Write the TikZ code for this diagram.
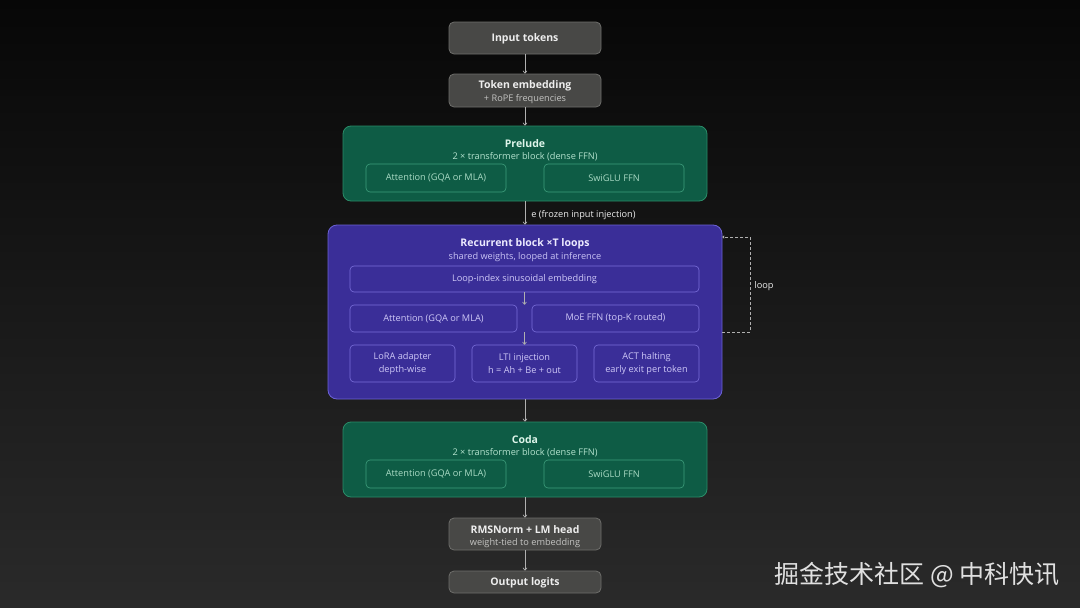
\documentclass[tikz,border=0pt]{standalone}
\usepackage{fontspec}
\setmainfont{Open Sans}
\newfontfamily\cjk{Noto Sans CJK SC}
\usetikzlibrary{arrows.meta}
\definecolor{bgtop}{HTML}{070707}
\definecolor{bgbot}{HTML}{2A2A2A}
\definecolor{gfill}{HTML}{484846}
\definecolor{gline}{HTML}{6E6E6B}
\definecolor{gtxt}{HTML}{EDEDED}
\definecolor{gsub}{HTML}{C4C4C2}
\definecolor{grfill}{HTML}{0E5C45}
\definecolor{grline}{HTML}{2A8C68}
\definecolor{grtitle}{HTML}{DDF5EA}
\definecolor{grsub}{HTML}{B4E2CE}
\definecolor{grin}{HTML}{3E9E7C}
\definecolor{grintxt}{HTML}{A9DAC4}
\definecolor{pfill}{HTML}{3A2E98}
\definecolor{pline}{HTML}{6C62D6}
\definecolor{ptitle}{HTML}{ECEAFF}
\definecolor{psub}{HTML}{C9C3F5}
\definecolor{pin}{HTML}{7A6FDA}
\definecolor{pintxt}{HTML}{CEC8F7}
\definecolor{arrc}{HTML}{B0B0B0}
\definecolor{wmark}{HTML}{E0E0E0}
\tikzset{
  gbox/.style={draw=gline, fill=gfill, line width=0.8pt, rounded corners=5pt, minimum width=152pt, inner sep=0pt},
  grblk/.style={draw=grline, fill=grfill, line width=0.8pt, rounded corners=8pt, minimum width=364pt, minimum height=75pt, inner sep=0pt},
  grinner/.style={draw=grin, line width=0.6pt, rounded corners=4pt, minimum width=140pt, minimum height=28pt, inner sep=0pt, text=grintxt, font=\fontsize{9.2}{10}\selectfont},
  pblk/.style={draw=pline, fill=pfill, line width=0.8pt, rounded corners=9pt, minimum width=394pt, minimum height=174pt, inner sep=0pt},
  pinner/.style={draw=pin, line width=0.6pt, rounded corners=4pt, inner sep=0pt, text=pintxt, font=\fontsize{9.2}{10.5}\selectfont, align=center},
  ttl/.style={font=\fontsize{10.5}{12}\selectfont\bfseries, inner sep=0pt},
  sub/.style={font=\fontsize{9.2}{10}\selectfont, inner sep=0pt},
  arr/.style={draw=arrc, line width=0.7pt, -{To[length=3pt,width=4.5pt]}},
  loopdash/.style={draw=arrc, line width=0.9pt, dashed, dash pattern=on 3pt off 2pt, -{To[length=2pt,width=3pt]}}
}
\begin{document}
\begin{tikzpicture}[x=1pt,y=-1pt]
\shade[top color=bgtop,bottom color=bgbot] (0,0) rectangle (1080,608);
\useasboundingbox (0,0) rectangle (1080,608);

% Input tokens
\node[gbox, minimum height=32pt] (inp) at (525,38) {};
\node[ttl, text=gtxt] at (525,39) {Input tokens};

% Token embedding
\node[gbox, minimum height=33pt] (emb) at (525,90.5) {};
\node[ttl, text=gtxt] at (525,86) {Token embedding};
\node[sub, text=gsub] at (525,99.5) {+ RoPE frequencies};

% Prelude
\node[grblk] (pre) at (525,163.5) {};
\node[ttl, text=grtitle] at (525,144) {Prelude};
\node[sub, text=grsub] at (525,157) {2 × transformer block (dense FFN)};
\node[grinner] (preatt) at (436,178) {Attention (GQA or MLA)};
\node[grinner] (preffn) at (614,178) {SwiGLU FFN};

% Recurrent block
\node[pblk] (rec) at (525,312) {};
\node[ttl, text=ptitle] at (525,244) {Recurrent block ×T loops};
\node[sub, text=psub] at (525,257.5) {shared weights, looped at inference};
\node[pinner, minimum width=349pt, minimum height=26pt] (lix) at (524.5,279) {Loop-index sinusoidal embedding};
\node[pinner, minimum width=167pt, minimum height=27pt] (ratt) at (433.5,318.5) {Attention (GQA or MLA)};
\node[pinner, minimum width=167pt, minimum height=27pt] (moe) at (615.5,318.5) {MoE FFN (top-K routed)};
\node[pinner, minimum width=105pt, minimum height=37pt] (lora) at (402.5,363.5) {LoRA adapter\\[2pt]depth-wise};
\node[pinner, minimum width=105pt, minimum height=37pt] (lti) at (524.5,363.5) {LTI injection\\[2pt]h = Ah + Be + out};
\node[pinner, minimum width=105pt, minimum height=37pt] (act) at (646.5,363.5) {ACT halting\\[2pt]early exit per token};
\draw[arr] (lix.south) -- (lix.south |- ratt.north);
\draw[arr] (lix.south |- ratt.south) -- (lti.north);

% Coda
\node[grblk] (coda) at (525,459.5) {};
\node[ttl, text=grtitle] at (525,440) {Coda};
\node[sub, text=grsub] at (525,453) {2 × transformer block (dense FFN)};
\node[grinner] (coatt) at (436,474) {Attention (GQA or MLA)};
\node[grinner] (coffn) at (614,474) {SwiGLU FFN};

% RMSNorm
\node[gbox, minimum height=32pt] (rms) at (525,534) {};
\node[ttl, text=gtxt] at (525,530) {RMSNorm + LM head};
\node[sub, text=gsub] at (525,543) {weight-tied to embedding};

% Output
\node[gbox, minimum height=22pt] (out) at (525,582) {};
\node[ttl, text=gtxt] at (525,583) {Output logits};

% connectors
\draw[arr] (inp) -- (emb);
\draw[arr] (emb) -- (pre);
\draw[arr] (pre) -- node[right=6pt, sub, text=gtxt, yshift=-2pt]{e (frozen input injection)} (rec);
\draw[arr] (rec) -- (coda);
\draw[arr] (coda) -- (rms);
\draw[arr] (rms) -- (out);

% loop
\draw[loopdash] ([yshift=-20pt]rec.east) -- ++(28,0) |- ([yshift=75pt]rec.east);
\node[sub, text=gtxt] at (764,286) {loop};

% watermark
\node[font=\cjk\fontsize{25}{28}\selectfont, text=wmark, anchor=east, inner sep=0pt] at (1060,575) {掘金技术社区 @ 中科快讯};
\end{tikzpicture}
\end{document}
